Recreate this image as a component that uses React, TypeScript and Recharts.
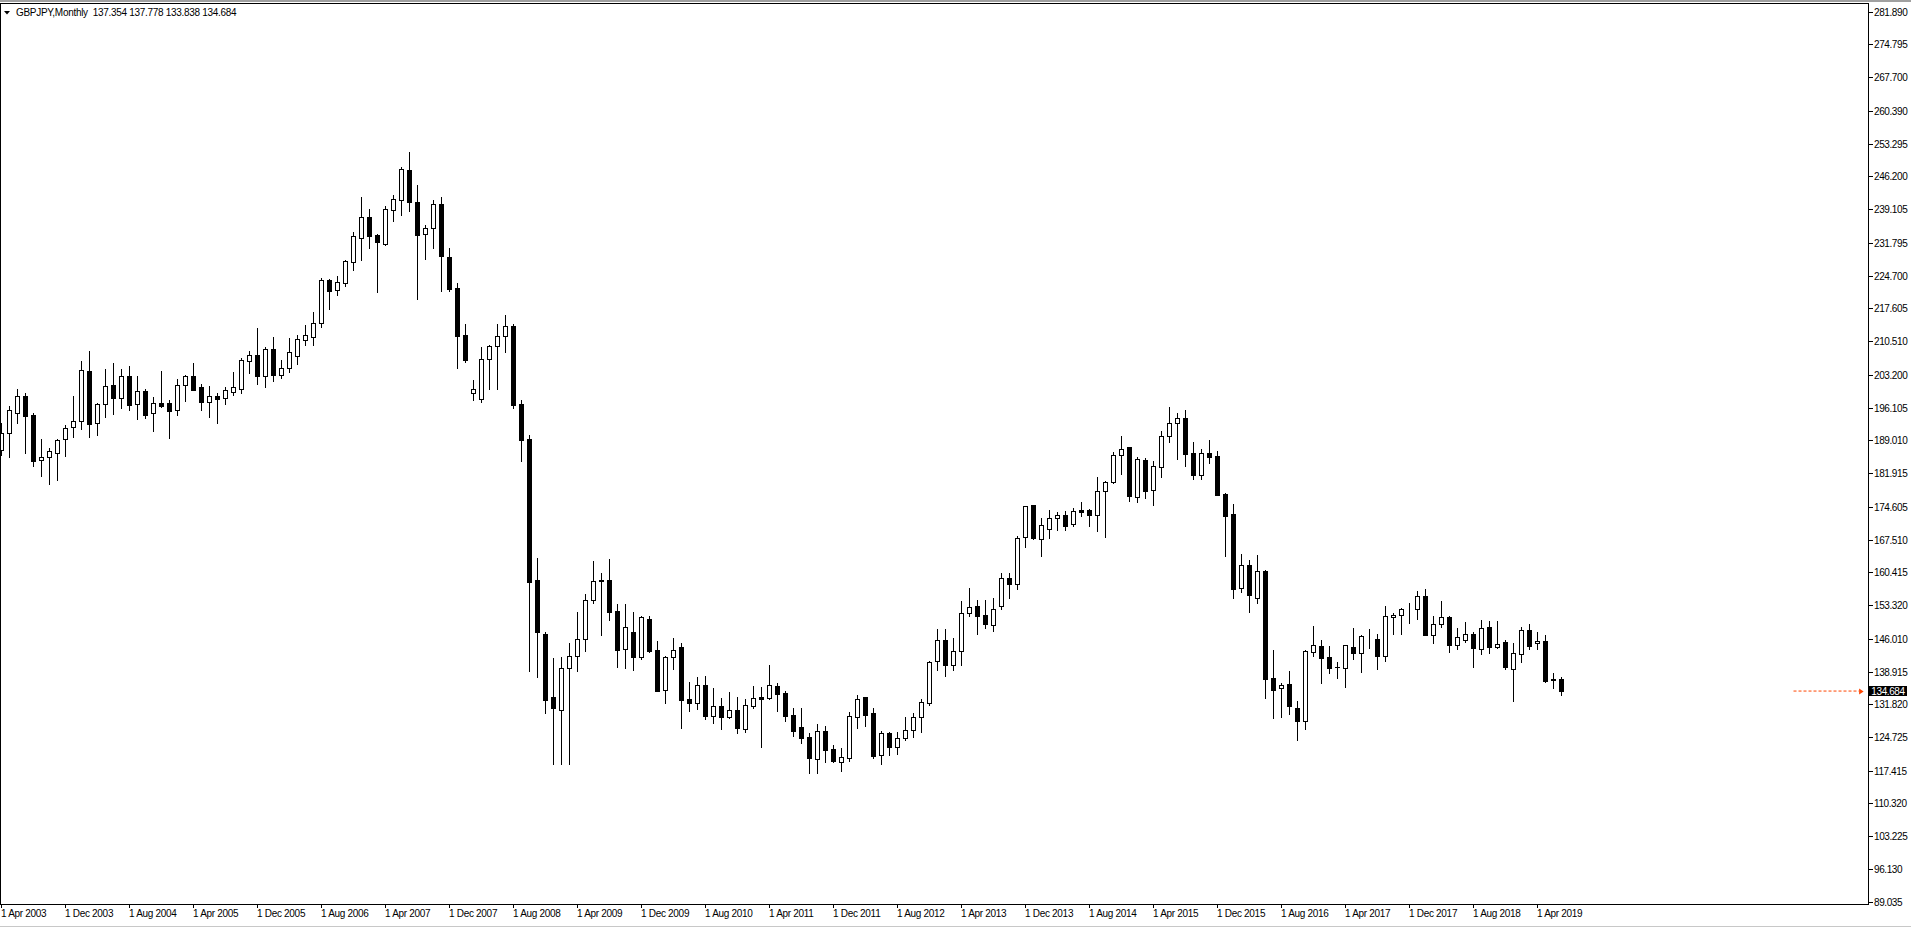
import React from 'react';
import { ComposedChart, Bar, XAxis, YAxis, ReferenceLine, ReferenceDot } from 'recharts';

const symbolTitle = 'GBPJPY,Monthly';
const startYear = 2003;
const startMonth = 3; // April, 0-based

const opens = [
  186.92, 190.53, 194.87, 198.62, 194.5, 184.68, 185.33, 186.2, 189.23, 191.83,
  193.13, 204.04, 192.7, 196.82, 201.01, 198.12, 202.96, 196.82, 199.71, 194.87,
  197.11, 197.11, 195.52, 200.93, 202.96, 200.5, 197.39, 198.62, 198.11, 199.56,
  200.21, 206.28, 207.43, 203.02, 208.73, 203.24, 204.76, 207.36, 210.83, 211.48,
  214.36, 223.68, 221.66, 223.18, 227.73, 232.93, 237.33, 233.5, 231.63, 238.99,
  241.16, 247.57, 240.6, 233.64, 235.12, 240.25, 228.67, 222.06, 211.78, 199.25,
  198.03, 206.73, 209.35, 211.61, 213.79, 196.9, 189.32, 158.85, 147.01, 133.43,
  130.47, 139.61, 142.22, 146.05, 154.41, 158.55, 158.75, 152.04, 143.73, 147.48,
  142.14, 150.3, 143.58, 134.84, 142.0, 144.23, 132.89, 132.17, 136.0, 129.36,
  131.45, 129.14, 130.58, 126.54, 131.52, 133.4, 133.26, 135.78, 134.27, 129.5,
  126.9, 124.73, 120.03, 126.03, 122.13, 119.38, 120.25, 129.14, 133.4, 129.93,
  120.76, 125.6, 122.63, 124.58, 126.17, 128.99, 132.17, 141.13, 145.68, 140.4,
  143.44, 151.53, 153.04, 151.09, 148.93, 153.04, 159.11, 157.96, 168.0, 174.93,
  167.56, 169.73, 172.12, 172.77, 170.96, 173.85, 173.85, 172.91, 177.97, 180.06,
  185.91, 187.5, 176.67, 184.68, 178.18, 183.31, 189.88, 192.7, 193.78, 186.2,
  181.58, 186.27, 185.54, 177.31, 172.98, 156.94, 161.92, 154.92, 160.7, 137.51,
  135.42, 136.14, 130.94, 128.27, 143.22, 144.37, 141.99, 139.97, 139.75, 144.16,
  143.0, 145.89, 145.96, 142.35, 150.8, 151.09, 152.39, 152.53, 155.2, 146.9,
  149.14, 150.65, 144.73, 145.81, 146.97, 143.72, 148.49, 144.3, 145.31, 139.53,
  142.78, 147.84, 145.02, 145.45, 137.15, 137.354,
];

const highs = [
  192.7, 196.46, 200.14, 199.34, 194.94, 189.38, 187.43, 189.3, 192.27, 198.62,
  206.21, 208.37, 197.18, 204.47, 205.77, 204.47, 205.12, 202.96, 200.07, 198.41,
  204.04, 197.76, 202.31, 203.17, 205.77, 201.22, 200.79, 199.2, 200.5, 203.82,
  206.78, 208.37, 213.35, 209.16, 211.4, 206.42, 211.19, 211.84, 214.0, 216.82,
  224.19, 223.97, 224.62, 228.09, 234.08, 241.74, 239.14, 233.79, 239.79, 242.1,
  248.31, 251.48, 244.26, 235.64, 241.04, 241.65, 230.59, 223.19, 214.13, 202.03,
  209.26, 209.69, 214.13, 216.14, 214.22, 197.77, 190.11, 163.46, 147.44, 141.87,
  142.05, 145.18, 151.8, 155.8, 162.86, 160.34, 163.3, 153.55, 153.55, 151.82,
  150.95, 150.95, 145.54, 142.28, 146.18, 145.1, 136.65, 137.73, 137.95, 135.35,
  133.18, 134.48, 133.4, 132.89, 135.78, 135.57, 140.33, 136.43, 134.77, 131.02,
  131.02, 125.52, 127.55, 127.11, 123.0, 122.35, 130.15, 133.83, 133.4, 131.01,
  126.03, 125.81, 125.81, 129.06, 129.93, 132.96, 141.13, 148.13, 148.13, 146.18,
  154.2, 156.94, 154.42, 154.42, 154.78, 160.27, 160.34, 168.36, 174.72, 174.93,
  172.12, 173.85, 173.42, 173.63, 174.28, 175.58, 174.07, 181.0, 180.21, 186.42,
  189.88, 187.5, 185.33, 185.12, 184.47, 190.97, 196.17, 194.87, 195.52, 188.58,
  187.07, 189.08, 186.7, 177.53, 175.14, 164.38, 163.01, 164.09, 160.84, 143.58,
  136.36, 139.03, 132.53, 143.58, 148.78, 145.75, 144.45, 140.98, 144.59, 148.35,
  146.76, 148.13, 147.05, 153.04, 151.52, 152.61, 153.69, 156.29, 156.79, 150.87,
  154.19, 150.87, 148.27, 149.57, 147.4, 150.0, 149.79, 149.79, 145.67, 145.02,
  148.49, 149.14, 147.4, 146.75, 138.52, 137.778,
];

const lows = [
  185.84, 185.33, 192.84, 186.34, 183.53, 181.36, 179.63, 180.49, 185.69, 189.67,
  191.54, 189.81, 190.24, 194.14, 194.79, 196.09, 195.59, 193.71, 193.93, 191.11,
  196.31, 189.59, 194.58, 197.61, 200.0, 195.58, 194.14, 192.84, 196.89, 198.91,
  199.34, 203.67, 201.29, 200.64, 201.94, 202.59, 203.89, 205.62, 209.74, 209.74,
  213.64, 217.47, 220.58, 222.53, 225.99, 228.16, 230.76, 221.23, 231.41, 236.61,
  237.91, 238.6, 219.53, 228.41, 230.59, 221.45, 221.45, 204.73, 206.04, 197.85,
  197.24, 200.03, 200.03, 208.21, 195.94, 184.62, 139.09, 137.78, 130.03, 118.98,
  118.98, 118.98, 139.09, 143.27, 153.71, 146.83, 150.09, 139.97, 139.76, 139.32,
  141.71, 143.15, 134.77, 132.17, 139.54, 126.76, 130.44, 130.87, 128.71, 127.84,
  126.54, 128.92, 125.67, 125.89, 131.09, 122.64, 133.04, 130.37, 128.2, 125.02,
  123.51, 117.0, 117.0, 119.38, 119.38, 117.43, 119.6, 126.75, 127.19, 120.25,
  118.95, 120.9, 121.12, 124.15, 124.8, 125.89, 131.74, 139.32, 138.02, 139.32,
  140.4, 151.02, 147.12, 148.42, 147.77, 152.54, 154.92, 156.88, 165.98, 167.71,
  164.03, 167.93, 169.66, 169.66, 170.53, 172.69, 170.53, 169.44, 168.14, 179.84,
  181.79, 175.94, 175.73, 176.59, 175.08, 181.14, 188.73, 185.04, 183.53, 180.57,
  180.71, 184.17, 177.24, 164.02, 154.92, 156.22, 151.89, 153.84, 133.25, 128.92,
  129.13, 129.78, 124.15, 126.53, 142.28, 136.5, 138.67, 137.58, 135.63, 141.7,
  138.88, 144.08, 139.53, 141.27, 147.12, 147.12, 149.5, 150.36, 146.9, 145.16,
  148.49, 143.21, 143.86, 145.38, 139.96, 142.78, 143.0, 144.08, 139.53, 132.6,
  141.05, 143.86, 143.86, 136.71, 135.41, 133.838,
];

const closes = [
  190.53, 195.59, 198.62, 194.36, 184.61, 185.4, 186.7, 189.09, 191.62, 193.21,
  204.26, 192.63, 196.89, 200.79, 198.26, 202.96, 196.74, 199.71, 194.58, 197.11,
  196.53, 195.44, 201.01, 202.96, 200.0, 197.39, 198.55, 198.04, 199.92, 200.5,
  206.42, 207.43, 203.02, 208.73, 203.24, 204.61, 208.08, 210.9, 211.76, 214.36,
  223.75, 221.44, 223.25, 227.87, 233.22, 237.33, 233.36, 232.06, 239.14, 241.23,
  247.81, 240.6, 233.55, 235.12, 240.25, 229.02, 221.88, 211.7, 206.47, 200.03,
  206.73, 209.43, 211.61, 213.87, 196.72, 189.15, 158.41, 147.44, 132.64, 130.99,
  139.78, 142.22, 146.05, 154.5, 158.59, 158.65, 151.89, 143.66, 148.5, 142.14,
  150.74, 143.44, 134.77, 142.07, 143.58, 132.82, 132.17, 136.0, 129.36, 131.45,
  129.14, 130.51, 126.76, 131.67, 133.18, 133.04, 136.0, 134.12, 129.36, 126.11,
  124.59, 120.25, 126.03, 121.98, 119.6, 120.32, 129.21, 132.89, 129.57, 120.61,
  125.6, 122.63, 124.44, 126.17, 128.99, 132.24, 140.91, 145.68, 140.4, 143.29,
  151.53, 152.83, 151.02, 149.14, 152.39, 159.11, 157.96, 167.78, 174.72, 167.93,
  170.6, 172.12, 172.77, 170.53, 173.63, 173.56, 172.91, 177.97, 179.92, 185.77,
  187.07, 177.03, 184.9, 178.11, 183.38, 189.88, 192.7, 193.78, 186.13, 181.58,
  186.2, 185.47, 177.24, 172.69, 156.87, 161.92, 155.57, 160.62, 137.37, 134.98,
  136.07, 131.52, 128.27, 143.36, 144.59, 141.92, 139.75, 139.92, 144.59, 143.0,
  146.54, 145.95, 142.35, 150.87, 151.16, 152.39, 152.45, 155.2, 146.9, 149.14,
  150.65, 144.73, 146.32, 146.97, 144.08, 148.27, 144.3, 144.8, 139.89, 142.85,
  147.84, 144.51, 145.45, 136.93, 137.35, 134.684,
];

const monthNames = ['Jan', 'Feb', 'Mar', 'Apr', 'May', 'Jun', 'Jul', 'Aug', 'Sep', 'Oct', 'Nov', 'Dec'];

// bar index of every date label (every 8th month)
const xTickIndexes = [
  0, 8, 16, 24, 32, 40, 48, 56, 64, 72, 80, 88, 96, 104, 112, 120, 128, 136, 144,
  152, 160, 168, 176, 184, 192,
];

const yTicks = [
  281.89, 274.795, 267.7, 260.39, 253.295, 246.2, 239.105, 231.795, 224.7, 217.605,
  210.51, 203.2, 196.105, 189.01, 181.915, 174.605, 167.51, 160.415, 153.32, 146.01,
  138.915, 131.82, 124.725, 117.415, 110.32, 103.225, 96.13, 89.035,
];

const data = opens.map((open, i) => ({
  i,
  open,
  high: highs[i],
  low: lows[i],
  close: closes[i],
}));

const lastBar = data[data.length - 1];
const X_MIN = -0.0625;
const X_MAX = 233.3125;
const FONT = "Tahoma, 'Liberation Sans', Arial, sans-serif";

const monthLabel = (i: number) => {
  const m = startMonth + i;
  return `1 ${monthNames[m % 12]} ${startYear + Math.floor(m / 12)}`;
};

const Candle = (props: any) => {
  const { x, y, width, height, payload } = props;
  if (x == null || y == null || !payload) return null;
  const { open, high, low, close } = payload;
  const cx = Math.floor(x + width / 2) + 0.5;
  const top = Math.min(y, y + height);
  const h = Math.abs(height);
  const span = high - low;
  const toY = (v: number) => (span > 0 ? top + ((high - v) / span) * h : top);
  const yHigh = Math.round(top);
  const yLow = Math.round(top + h);
  const yo = Math.round(toY(open));
  const yc = Math.round(toY(close));
  const bTop = Math.min(yo, yc);
  const bBot = Math.max(yo, yc);
  const bull = close >= open;
  return (
    <g shapeRendering="crispEdges">
      <line x1={cx} x2={cx} y1={yHigh} y2={yLow + 1} stroke="#000" strokeWidth={1} />
      {bull ? (
        <rect x={cx - 2} y={bTop + 0.5} width={4} height={bBot - bTop} fill="#fff" stroke="#000" strokeWidth={1} />
      ) : (
        <rect x={cx - 2.5} y={bTop} width={5} height={bBot - bTop + 1} fill="#000" />
      )}
    </g>
  );
};

const XTick = (props: any) => {
  const { x, y, payload } = props;
  const px = Math.floor(x) + 0.5;
  return (
    <g>
      <line x1={px} x2={px} y1={y} y2={y + 4} stroke="#000" strokeWidth={1} />
      <text x={px - 0.5} y={y + 13} fontSize={10} fontFamily={FONT} fill="#000" letterSpacing={-0.3}>
        {monthLabel(payload.value)}
      </text>
    </g>
  );
};

const YTick = (props: any) => {
  const { x, y, payload } = props;
  const py = Math.round(y) + 0.5;
  return (
    <g>
      <line x1={x + 1} x2={x + 5} y1={py} y2={py} stroke="#000" strokeWidth={1} />
      <text x={x + 6} y={py + 3.5} fontSize={10} fontFamily={FONT} fill="#000" letterSpacing={-0.4}>
        {payload.value.toFixed(3)}
      </text>
    </g>
  );
};

const PriceArrow = (props: any) => {
  const { cx, cy } = props;
  const y = Math.round(cy) + 0.5;
  return <polygon points={`${cx - 4},${y - 3} ${cx + 0.5},${y} ${cx - 4},${y + 3}`} fill="#FF4500" />;
};

const PriceBox = (props: any) => {
  const { cx, cy } = props;
  const y = Math.round(cy);
  return (
    <g>
      <rect x={cx + 1} y={y - 5} width={38} height={10} fill="#000" />
      <text x={cx + 20} y={y + 3.5} fontSize={10} fontFamily={FONT} fill="#fff" textAnchor="middle" letterSpacing={-0.4}>
        {lastBar.close.toFixed(3)}
      </text>
    </g>
  );
};

export default function App() {
  return (
    <div style={{ position: 'relative', width: 1911, height: 928, overflow: 'hidden', background: '#fff' }}>
      <style>{'body{margin:0;}'}</style>
      <ComposedChart width={1911} height={928} data={data} margin={{ top: 4, right: 0, bottom: 0, left: 1 }}>
        <XAxis
          type="number"
          dataKey="i"
          domain={[X_MIN, X_MAX]}
          allowDataOverflow
          ticks={xTickIndexes}
          interval={0}
          height={24}
          axisLine={false}
          tickLine={false}
          tickSize={0}
          tickMargin={0}
          tick={<XTick />}
        />
        <YAxis
          type="number"
          orientation="right"
          width={43}
          domain={[88.54, 283.56]}
          allowDataOverflow
          ticks={yTicks}
          interval={0}
          axisLine={false}
          tickLine={false}
          tickSize={0}
          tickMargin={0}
          tick={<YTick />}
        />
        <Bar
          dataKey={(d: any) => [d.low, d.high]}
          barSize={5}
          shape={(p: any) => <Candle {...p} />}
          isAnimationActive={false}
        />
        <ReferenceLine
          segment={[
            { x: 224, y: lastBar.close },
            { x: 232.2, y: lastBar.close },
          ]}
          stroke="#FF4500"
          strokeDasharray="3 2"
          strokeWidth={1}
          ifOverflow="visible"
        />
        <ReferenceDot x={232.7} y={lastBar.close} r={3} ifOverflow="visible" shape={(p: any) => <PriceArrow {...p} />} />
        <ReferenceDot x={X_MAX} y={lastBar.close} r={3} ifOverflow="visible" shape={(p: any) => <PriceBox {...p} />} />
      </ComposedChart>

      {/* chart frame */}
      <div
        style={{
          position: 'absolute',
          left: 0,
          top: 3,
          width: 1869,
          height: 902,
          boxSizing: 'border-box',
          border: '1px solid #000',
          pointerEvents: 'none',
        }}
      />
      {/* window edges */}
      <div style={{ position: 'absolute', left: 0, top: 0, width: 1911, height: 2, background: '#a0a0a0' }} />
      <div style={{ position: 'absolute', left: 0, top: 926, width: 1911, height: 1, background: '#c8c8c8' }} />

      {/* header */}
      <svg style={{ position: 'absolute', left: 4, top: 11 }} width={7} height={5}>
        <polygon points="0,0 6,0 3,3.5" fill="#000" />
      </svg>
      <div
        style={{
          position: 'absolute',
          left: 16,
          top: 7,
          fontFamily: FONT,
          fontSize: 10,
          letterSpacing: -0.3,
          color: '#000',
          whiteSpace: 'pre',
        }}
      >
        {`${symbolTitle}  ${lastBar.open.toFixed(3)} ${lastBar.high.toFixed(3)} ${lastBar.low.toFixed(3)} ${lastBar.close.toFixed(3)}`}
      </div>
    </div>
  );
}
